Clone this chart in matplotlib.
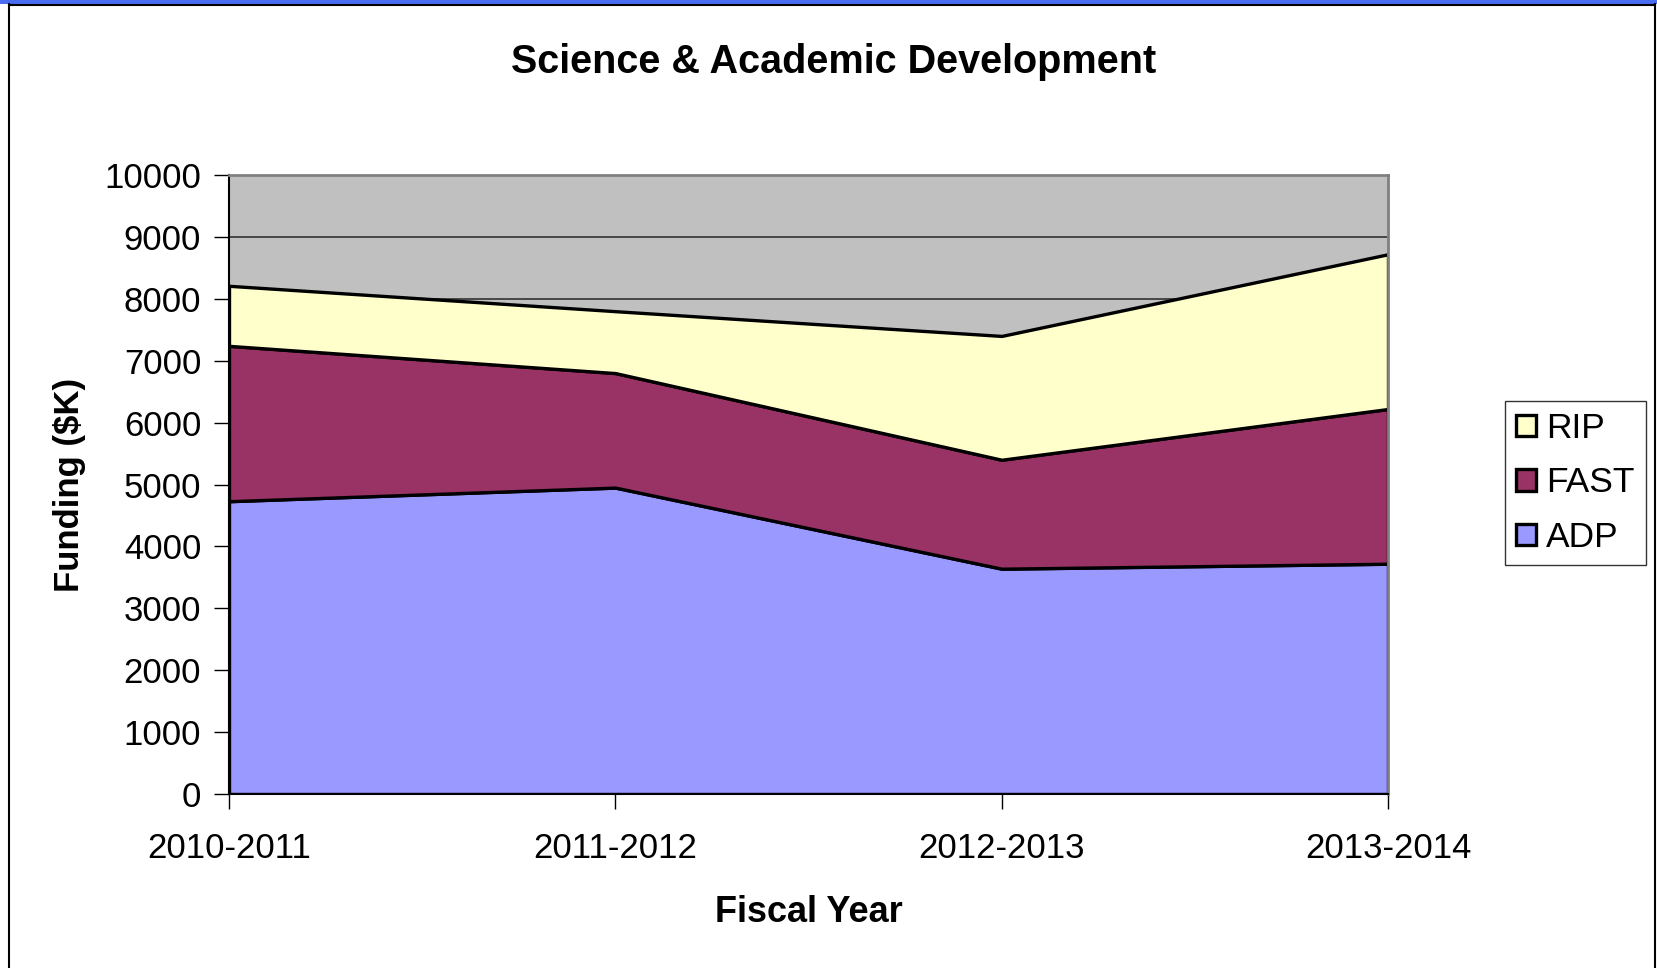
import matplotlib
matplotlib.use('Agg')
import matplotlib.pyplot as plt
from matplotlib.patches import Rectangle
from matplotlib.lines import Line2D

years = ['2010-2011', '2011-2012', '2012-2013', '2013-2014']
adp = [4730, 4950, 3640, 3720]
fast = [2510, 1850, 1760, 2500]
rip = [970, 1000, 2000, 2500]
series_names = ['ADP', 'FAST', 'RIP']
colors = ['#9999FF', '#993366', '#FFFFCC']

plt.rcParams['font.family'] = ['Liberation Sans', 'DejaVu Sans']

fig = plt.figure(figsize=(16.57, 9.68), dpi=100)
fig.patch.set_facecolor('white')
ax = fig.add_axes([229/1657, 1-794/968, (1388-229)/1657, (794-175)/968])
ax.set_facecolor('#C0C0C0')

x = list(range(len(years)))
polys = ax.stackplot(x, adp, fast, rip, colors=colors, labels=series_names,
                     edgecolor='black', linewidth=2.4, zorder=2)

ax.set_xlim(0, len(years)-1)
ax.set_ylim(0, 10000)
ax.set_yticks(range(0, 10001, 1000))
ax.set_xticks(x)
ax.set_xticklabels(years)
ax.set_axisbelow(True)
ax.grid(axis='y', color='#333333', linewidth=1.2, zorder=1)
ax.tick_params(axis='both', labelsize=25, direction='out', length=11, width=1, color='black')
ax.tick_params(axis='x', pad=16)
ax.tick_params(axis='y', pad=9)
for s in ['top', 'right']:
    ax.spines[s].set_color('#808080')
    ax.spines[s].set_linewidth(2)
for s in ['left', 'bottom']:
    ax.spines[s].set_color('black')
    ax.spines[s].set_linewidth(1.5)

ax.set_xlabel('Fiscal Year', fontsize=26, fontweight='bold', labelpad=22)
ax.set_ylabel('Funding ($K)', fontsize=25, fontweight='bold', labelpad=13)
fig.text(834/1657, 1-62/968, 'Science & Academic Development', fontsize=28.5,
         fontweight='bold', ha='center', va='center')

handles = polys[::-1]
labels = series_names[::-1]
leg = fig.legend(handles, labels, loc='center left',
                 bbox_to_anchor=(1505/1657, 1-483/968), fontsize=25.5,
                 frameon=True, fancybox=False, edgecolor='black',
                 handlelength=0.55, handleheight=0.55, handletextpad=0.3,
                 labelspacing=0.6, borderpad=0.32, borderaxespad=0)
leg.get_frame().set_linewidth(1)

# window frame around the chart
fig.add_artist(Rectangle((0, 1-4/968), 1, 4/968, transform=fig.transFigure,
                         facecolor='#4a6cf0', edgecolor='none'))
fig.add_artist(Line2D([9/1657, 9/1657], [0, 1-4/968], transform=fig.transFigure,
                      color='black', linewidth=1.5))
fig.add_artist(Line2D([9/1657, 1655/1657], [1-5/968, 1-5/968], transform=fig.transFigure,
                      color='black', linewidth=1.5))
fig.add_artist(Line2D([1655/1657, 1655/1657], [0, 1-4/968], transform=fig.transFigure,
                      color='black', linewidth=1.5))

fig.savefig('out.png', dpi=100)
